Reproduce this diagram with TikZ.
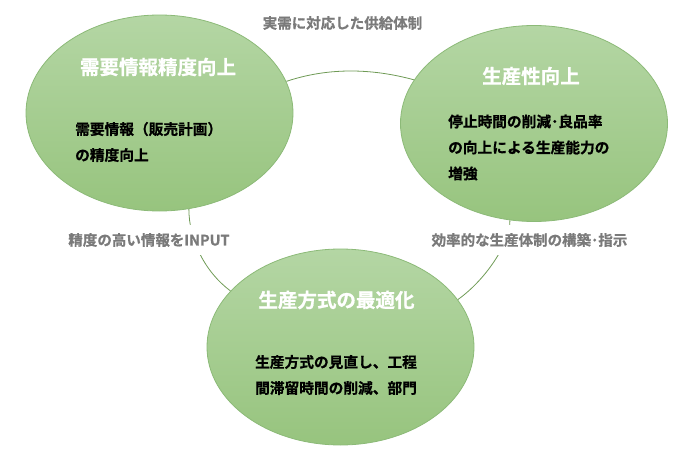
\documentclass[tikz,border=0pt]{standalone}
\usepackage{fontspec}
\newfontfamily\jp{Noto Sans CJK JP}[BoldFont={Noto Sans CJK JP Bold},BoldFeatures={FakeBold=0.8}]
\usetikzlibrary{shapes.geometric}
\pgfdeclarelayer{background}
\pgfsetlayers{background,main}
\definecolor{gtop}{HTML}{B4D6A4}
\definecolor{gbot}{HTML}{97C47E}
\definecolor{gedge}{HTML}{8CBA78}
\definecolor{arcc}{HTML}{6E9A55}
\definecolor{lblgray}{HTML}{7A7A7A}
\begin{document}
\begin{tikzpicture}[x=1pt,y=-1pt,
  bubble/.style={ellipse, minimum width=267pt, minimum height=196pt, inner sep=0pt,
    top color=gtop, bottom color=gbot, draw=gedge, line width=0.8pt},
  title/.style={text=white, font=\jp\bfseries\fontsize{19.5}{22}\selectfont, inner sep=0pt},
  body/.style={text=black, align=left, anchor=west, font=\jp\bfseries\fontsize{14.7}{26}\selectfont, inner sep=0pt},
  lbl/.style={text=lblgray, font=\jp\bfseries\fontsize{14.5}{17}\selectfont, fill=white, inner xsep=2pt, inner ysep=8pt},
  link/.style={draw=arcc, line width=0.8pt}]
\useasboundingbox (0,0) rectangle (686,463);

% bubbles
\node[bubble] (c1) at (159.5,113) {};
\node[bubble] (c2) at (534,123.5) {};
\node[bubble] (c3) at (340.5,347) {};

% connectors
\begin{pgfonlayer}{background}
\draw[link] (c1.14) .. controls (327,67.8) and (370,67.8) .. (c2.160);
\draw[link] (c1.-73) .. controls (189,240) and (205,272) .. (c3.153);
\draw[link] (c2.-104) .. controls (511,240) and (488,278) .. (c3.22);
\end{pgfonlayer}

% titles
\node[title] (t1) at (158,67) {需要情報精度向上};
\node[title] (t2) at (531,76) {生産性向上};
\node[title] (t3) at (336.5,300) {生産方式の最適化};

% bodies
\node[body] (b1) at (75,142) {需要情報（販売計画）\\の精度向上};
\node[body] (b2) at (448,147.5) {停止時間の削減･良品率\\の向上による生産能力の\\増強};
\node[body] (b3) at (255,375) {生産方式の見直し、工程\\間滞留時間の削減、部門};

% connector labels
\node[lbl] (l1) at (342.5,23) {実需に対応した供給体制};
\node[lbl] (l2) at (149,240) {精度の高い情報をINPUT};
\node[lbl] (l3) at (529.5,240) {効率的な生産体制の構築･指示};
\end{tikzpicture}
\end{document}
